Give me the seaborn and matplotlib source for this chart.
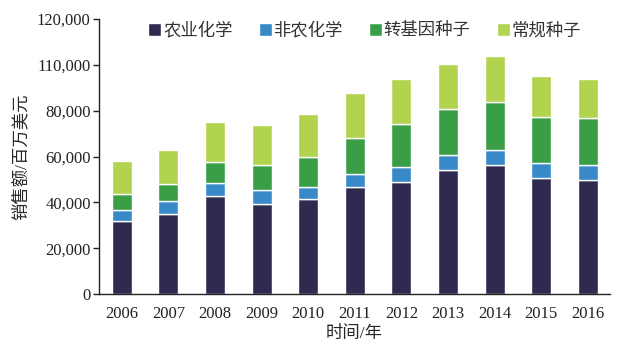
import numpy as np
import pandas as pd
import matplotlib
matplotlib.use("Agg")
import matplotlib.pyplot as plt
import seaborn as sns

years = ["2006", "2007", "2008", "2009", "2010", "2011", "2012", "2013", "2014", "2015", "2016"]
agro_chem = [32100, 35000, 42900, 39400, 41600, 46800, 49000, 54200, 56400, 50700, 49900]
non_agro_chem = [4800, 5700, 5400, 6200, 5200, 5800, 6500, 6300, 6600, 6600, 6500]
gm_seed = [6900, 7400, 9400, 10800, 13100, 15600, 18800, 20300, 20900, 20100, 20600]
conv_seed = [14400, 14900, 17500, 17500, 18800, 19600, 19600, 19600, 20100, 18000, 16900]
series_names = ["农业化学", "非农化学", "转基因种子", "常规种子"]
colors = ["#2f2b50", "#3789c8", "#3a9e47", "#b2d34e"]
ytick_vals = [0, 20000, 40000, 60000, 80000, 100000, 120000]
ytick_labels = ["0", "20,000", "40,000", "60,000", "80,000", "110,000", "120,000"]

sns.set_style("white")
plt.rcParams["font.family"] = ["Liberation Serif", "Noto Sans CJK SC"]
plt.rcParams["font.size"] = 12
plt.rcParams["text.color"] = "#222222"

df = pd.DataFrame({"year": years})
series = [agro_chem, non_agro_chem, gm_seed, conv_seed]

fig = plt.figure(figsize=(6.19, 3.54), dpi=100)
ax = fig.add_axes([0.16, 0.169, 0.825, 0.777])

bottom = np.zeros(len(years))
for name, vals, c in zip(series_names, series, colors):
    d = df.copy()
    d["v"] = vals
    sns.barplot(data=d, x="year", y="v", color=c, width=0.43, bottom=bottom,
                label=name, ax=ax, saturation=1)
    bottom = bottom + np.array(vals)

ax.set_xlim(-0.49, 10.47)
ax.set_ylim(0, 120000)
ax.set_yticks(ytick_vals)
ax.set_yticklabels(ytick_labels)
ax.set_xlabel("时间/年", fontsize=12.5, labelpad=3)
ax.set_ylabel("销售额/百万美元", fontsize=12.5, labelpad=5)

for s in ["top", "right"]:
    ax.spines[s].set_visible(False)
for s in ["left", "bottom"]:
    ax.spines[s].set_color("#222222")
    ax.spines[s].set_linewidth(1.0)
ax.tick_params(axis="y", left=True, length=4, width=1, color="#222222",
               labelsize=12, labelcolor="#222222", pad=2)
ax.tick_params(axis="x", bottom=False, labelsize=12, labelcolor="#222222", pad=5)

ax.legend(loc="upper center", bbox_to_anchor=(0.52, 1.045), ncol=4, frameon=False,
          handlelength=0.75, handleheight=0.75, handletextpad=0.1, columnspacing=1.5,
          fontsize=12.5, labelcolor="#333333")

plt.savefig("out.png", dpi=100)
